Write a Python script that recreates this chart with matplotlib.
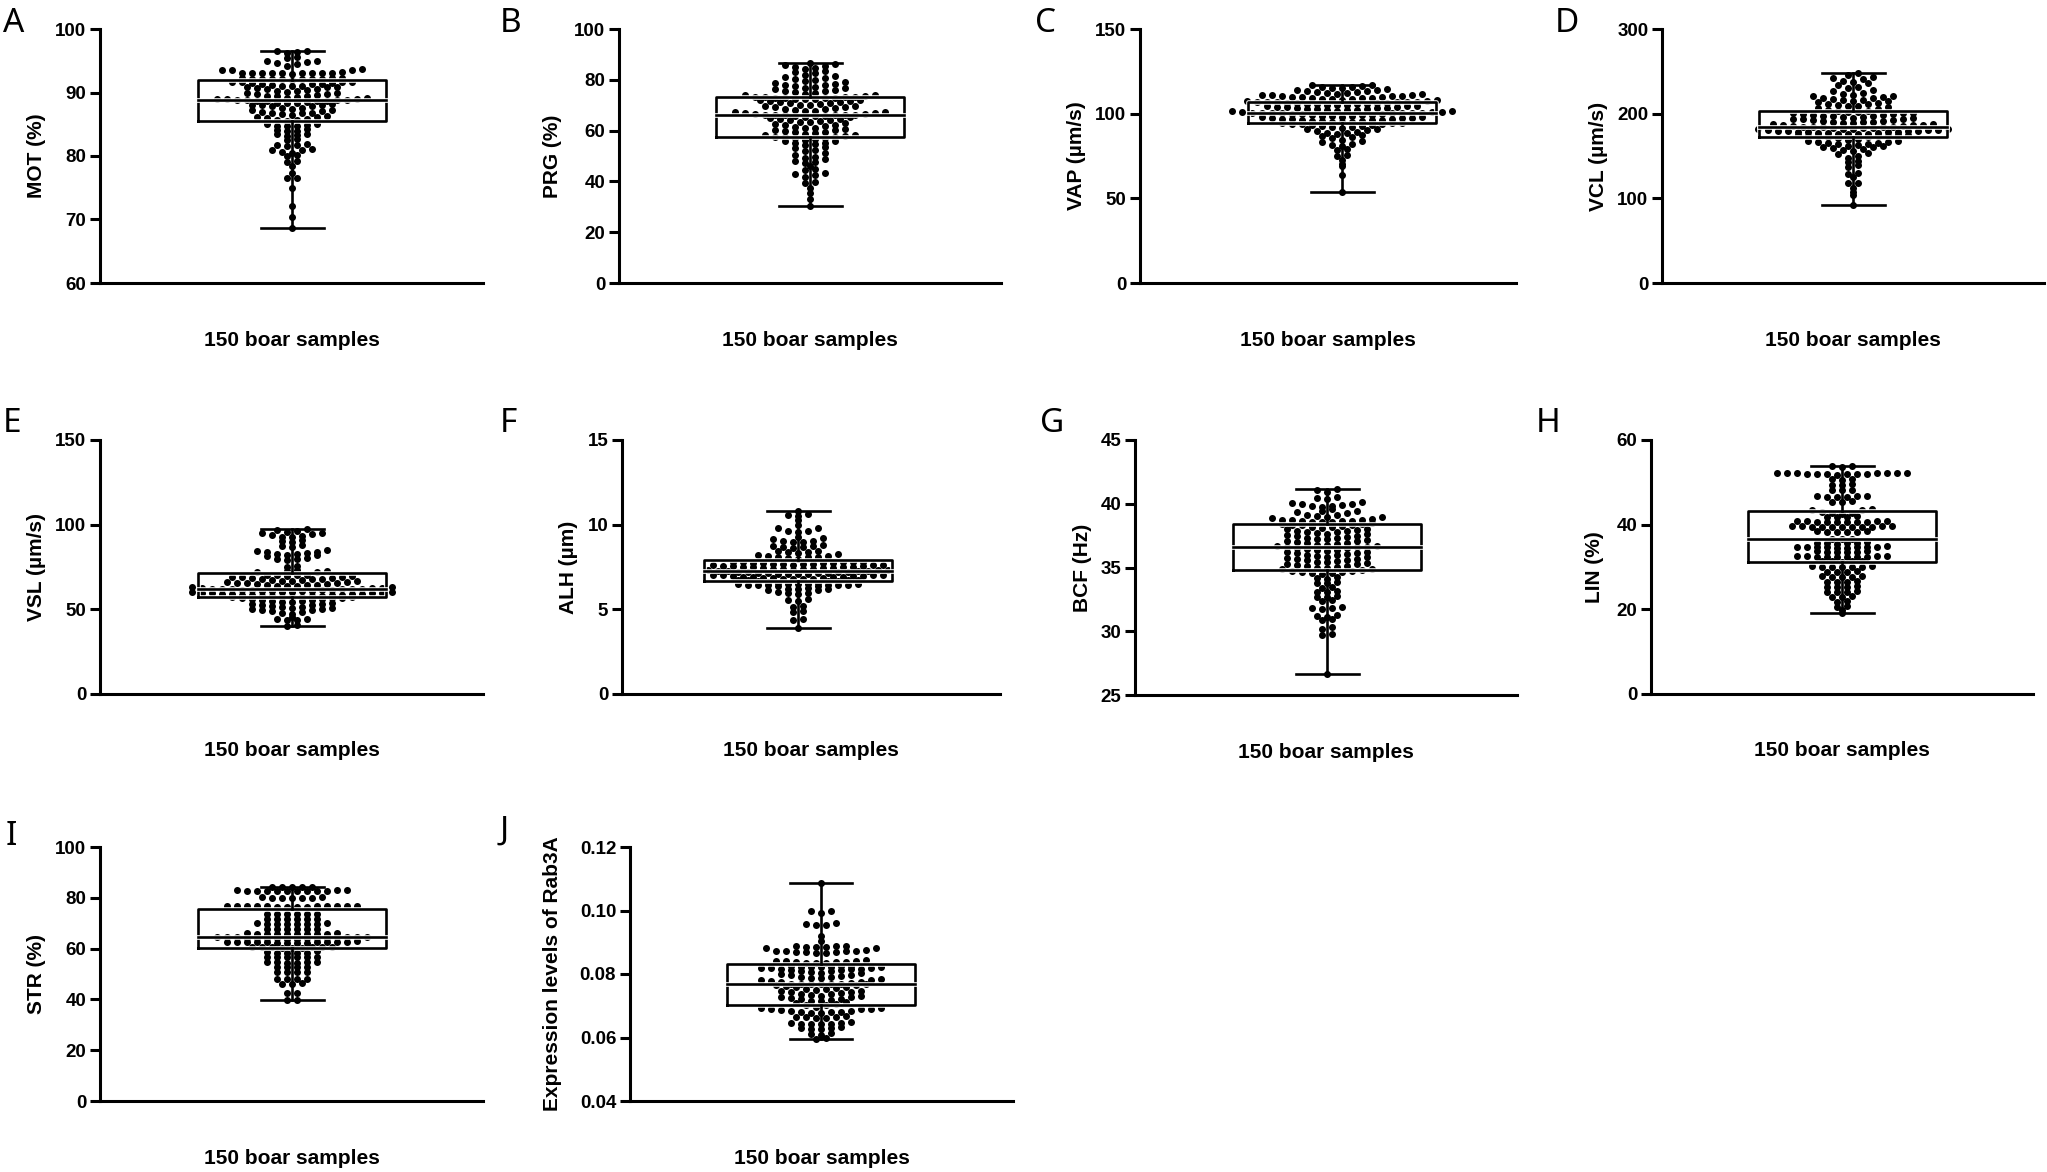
import numpy as np
import matplotlib
matplotlib.use("Agg")
import matplotlib.pyplot as plt
import matplotlib.patheffects as pe

# ---------------- data (150 boar samples) ----------------
mot = [68.7, 70.4, 72.1, 75.0, 76.5, 76.6, 77.4, 78.4, 79.0, 79.2,
       80.0, 80.1, 80.5, 80.6, 80.9, 81.0, 81.1, 81.6, 81.7, 81.8,
       81.9, 82.5, 82.6, 83.2, 83.3, 83.4, 83.5, 83.9, 84.0, 84.1,
       84.2, 84.7, 84.8, 84.8, 84.9, 85.0, 85.1, 85.5, 85.6, 85.7,
       85.9, 86.0, 86.1, 86.2, 86.3, 86.5, 86.6, 86.7, 86.7, 86.8,
       87.0, 87.1, 87.2, 87.3, 87.4, 87.5, 87.6, 87.8, 87.9, 88.0,
       88.0, 88.1, 88.2, 88.3, 88.4, 88.4, 88.5, 88.6, 88.6, 88.7,
       88.7, 88.8, 88.8, 88.8, 88.8, 88.9, 89.0, 89.0, 89.1, 89.2,
       89.3, 89.4, 89.4, 89.5, 89.6, 89.7, 89.8, 89.9, 90.0, 90.1,
       90.2, 90.3, 90.4, 90.5, 90.6, 90.7, 90.8, 90.8, 90.9, 91.0,
       91.1, 91.1, 91.2, 91.3, 91.4, 91.4, 91.5, 91.5, 91.6, 91.6,
       91.7, 91.7, 92.0, 92.1, 92.1, 92.1, 92.2, 92.2, 92.2, 92.2,
       92.3, 92.3, 92.3, 92.9, 93.0, 93.0, 93.0, 93.0, 93.0, 93.1,
       93.1, 93.1, 93.1, 93.2, 93.5, 93.6, 93.6, 93.7, 94.2, 94.5,
       94.7, 94.8, 94.9, 95.0, 95.5, 95.6, 96.2, 96.4, 96.5, 96.6]

prg = [30.4, 33.2, 35.3, 37.5, 39.3, 39.6, 41.8, 42.5, 42.9, 43.5,
       44.3, 44.8, 46.0, 47.1, 47.8, 48.2, 48.9, 49.3, 49.7, 50.2,
       51.0, 51.8, 52.4, 53.0, 53.6, 54.2, 54.6, 55.0, 55.3, 55.8,
       56.1, 56.4, 56.7, 56.9, 57.1, 57.3, 57.5, 57.6, 57.8, 58.1,
       58.4, 58.7, 59.0, 59.3, 59.5, 59.8, 60.1, 60.4, 60.7, 61.0,
       61.2, 61.5, 61.8, 62.1, 62.4, 62.6, 62.9, 63.2, 63.5, 63.8,
       64.0, 64.3, 64.5, 64.7, 64.9, 65.2, 65.4, 65.6, 65.8, 65.9,
       66.0, 66.0, 66.1, 66.1, 66.1, 66.2, 66.4, 66.6, 66.8, 67.0,
       67.3, 67.5, 67.7, 67.9, 68.2, 68.4, 68.6, 68.9, 69.1, 69.3,
       69.5, 69.8, 70.0, 70.2, 70.5, 70.7, 70.9, 71.1, 71.3, 71.5,
       71.7, 71.9, 72.1, 72.3, 72.4, 72.6, 72.7, 72.8, 72.9, 73.0,
       73.1, 73.1, 73.2, 73.4, 73.7, 74.0, 74.2, 74.5, 74.8, 75.1,
       75.4, 75.7, 76.0, 76.3, 76.6, 76.9, 77.2, 77.5, 77.8, 78.1,
       78.4, 78.7, 79.0, 79.4, 79.8, 80.2, 80.6, 81.0, 81.5, 82.0,
       82.5, 83.0, 83.6, 84.2, 84.8, 85.0, 85.3, 85.8, 86.2, 86.5]

vap = [53.6, 63.8, 69.0, 70.5, 72.6, 74.8, 75.3, 78.3, 78.9, 80.8,
       81.3, 82.0, 83.3, 83.8, 84.5, 85.6, 86.2, 86.6, 87.3, 88.0,
       88.4, 88.8, 89.4, 89.9, 90.4, 90.8, 91.1, 91.5, 91.9, 92.3,
       92.6, 93.0, 93.2, 93.5, 93.7, 93.9, 94.1, 94.3, 94.5, 94.7,
       94.9, 95.1, 95.3, 95.6, 95.7, 95.9, 96.2, 96.3, 96.5, 96.8,
       96.9, 97.1, 97.4, 97.5, 97.7, 98.0, 98.1, 98.3, 98.6, 98.7,
       98.9, 99.2, 99.3, 99.5, 99.8, 99.9, 100.0, 100.1, 100.3, 100.4,
       100.5, 100.5, 100.6, 100.6, 100.6, 100.7, 100.8, 101.0, 101.3, 101.4,
       101.6, 101.9, 102.0, 102.2, 102.5, 102.6, 102.8, 103.1, 103.2, 103.4,
       103.7, 103.8, 104.0, 104.3, 104.4, 104.6, 104.9, 105.0, 105.2, 105.5,
       105.6, 105.8, 106.0, 106.2, 106.3, 106.4, 106.5, 106.6, 106.7, 106.8,
       106.9, 106.9, 107.0, 107.3, 107.6, 107.9, 108.2, 108.4, 108.6, 108.8,
       109.0, 109.2, 109.4, 109.6, 109.8, 110.0, 110.2, 110.4, 110.6, 110.8,
       111.0, 111.2, 111.4, 111.7, 112.0, 112.3, 112.6, 112.9, 113.2, 113.5,
       113.8, 114.2, 114.6, 115.0, 115.3, 115.6, 116.0, 116.4, 116.8, 117.0]

vcl = [92.4, 104.5, 107.5, 111.8, 117.6, 118.3, 125.5, 128.8, 130.2, 136.5,
       139.0, 143.0, 144.2, 147.6, 149.5, 152.4, 154.0, 155.8, 157.4, 158.6,
       159.4, 160.2, 160.9, 161.5, 162.3, 163.0, 163.8, 164.5, 165.1, 165.7,
       166.2, 167.0, 167.6, 168.3, 169.0, 170.1, 171.3, 172.4, 172.8, 173.1,
       173.5, 173.8, 174.1, 174.5, 174.8, 175.1, 175.5, 175.8, 176.1, 176.4,
       176.8, 177.1, 177.4, 177.8, 178.1, 178.4, 178.8, 179.1, 179.4, 179.8,
       180.1, 180.4, 180.8, 181.1, 181.4, 181.8, 182.1, 182.4, 182.8, 183.1,
       183.4, 183.8, 184.1, 184.4, 184.5, 184.6, 185.1, 185.6, 186.1, 186.6,
       187.1, 187.6, 188.1, 188.6, 189.1, 189.6, 190.1, 190.6, 191.1, 191.6,
       192.2, 192.7, 193.2, 193.7, 194.2, 194.7, 195.2, 195.7, 196.2, 196.7,
       197.3, 197.8, 198.3, 198.8, 199.3, 199.8, 200.3, 200.8, 201.3, 201.8,
       202.4, 203.0, 203.6, 204.3, 205.4, 206.5, 207.6, 208.6, 209.5, 210.4,
       211.2, 212.0, 212.8, 213.6, 214.4, 215.1, 215.8, 216.5, 217.2, 218.0,
       218.8, 219.6, 220.5, 221.4, 222.3, 223.5, 225.0, 226.5, 228.2, 230.0,
       232.0, 234.0, 236.0, 237.5, 239.0, 240.5, 242.0, 243.5, 246.0, 247.6]

vsl = [40.3, 40.6, 43.5, 43.8, 44.0, 44.2, 45.7, 47.5, 48.0, 48.6,
       49.2, 49.6, 49.9, 50.1, 50.3, 50.5, 50.8, 51.2, 51.6, 52.0,
       52.3, 52.6, 53.0, 53.4, 53.8, 54.1, 54.4, 54.8, 55.1, 55.4,
       55.7, 55.9, 56.2, 56.4, 56.6, 56.8, 57.0, 57.1, 57.2, 57.4,
       57.5, 57.7, 57.8, 58.0, 58.1, 58.3, 58.4, 58.6, 58.7, 58.9,
       59.0, 59.1, 59.3, 59.4, 59.6, 59.7, 59.9, 60.0, 60.2, 60.3,
       60.5, 60.6, 60.8, 60.9, 61.0, 61.2, 61.3, 61.5, 61.6, 61.8,
       61.9, 62.0, 62.0, 62.1, 62.2, 62.4, 62.6, 62.8, 63.0, 63.2,
       63.5, 63.7, 63.9, 64.2, 64.4, 64.6, 64.9, 65.1, 65.3, 65.6,
       65.8, 66.0, 66.3, 66.5, 66.7, 67.0, 67.2, 67.4, 67.7, 67.9,
       68.1, 68.4, 68.6, 68.8, 69.1, 69.3, 69.5, 69.8, 70.0, 70.2,
       70.3, 70.4, 71.8, 72.2, 72.5, 72.9, 73.4, 75.2, 75.8, 79.0,
       79.5, 79.9, 80.4, 81.5, 81.9, 82.2, 82.5, 82.8, 83.2, 83.8,
       84.1, 84.4, 85.0, 86.8, 87.3, 87.8, 89.6, 90.2, 90.8, 92.6,
       93.0, 93.4, 94.0, 94.6, 95.0, 95.3, 95.7, 96.5, 97.0, 97.3]

alh = [3.92, 4.35, 4.40, 4.85, 4.88, 5.14, 5.18, 5.52, 5.56, 5.60,
       5.92, 5.95, 5.98, 6.02, 6.14, 6.17, 6.19, 6.21, 6.23, 6.26,
       6.38, 6.40, 6.41, 6.42, 6.43, 6.44, 6.45, 6.46, 6.47, 6.48,
       6.49, 6.50, 6.52, 6.55, 6.58, 6.62, 6.65, 6.69, 6.70, 6.72,
       6.73, 6.75, 6.76, 6.78, 6.79, 6.81, 6.82, 6.84, 6.86, 6.87,
       6.89, 6.90, 6.92, 6.93, 6.95, 6.96, 6.98, 7.00, 7.01, 7.03,
       7.04, 7.06, 7.07, 7.09, 7.10, 7.12, 7.14, 7.15, 7.17, 7.18,
       7.20, 7.21, 7.23, 7.24, 7.26, 7.27, 7.29, 7.30, 7.32, 7.33,
       7.35, 7.37, 7.38, 7.40, 7.41, 7.43, 7.44, 7.46, 7.48, 7.49,
       7.51, 7.52, 7.54, 7.55, 7.57, 7.59, 7.60, 7.62, 7.63, 7.65,
       7.66, 7.68, 7.70, 7.71, 7.73, 7.74, 7.76, 7.77, 7.79, 7.80,
       7.81, 7.82, 7.98, 8.04, 8.08, 8.10, 8.12, 8.14, 8.16, 8.20,
       8.24, 8.30, 8.36, 8.40, 8.42, 8.45, 8.60, 8.66, 8.70, 8.72,
       8.75, 8.78, 8.95, 9.00, 9.03, 9.06, 9.18, 9.22, 9.25, 9.56,
       9.60, 9.64, 9.78, 9.80, 10.00, 10.28, 10.52, 10.58, 10.62, 10.81]

bcf = [26.62, 29.70, 29.80, 30.20, 30.30, 30.85, 30.95, 31.15, 31.20, 31.30,
       31.75, 31.80, 31.85, 31.90, 32.35, 32.45, 32.65, 32.70, 32.80, 33.05,
       33.10, 33.15, 33.40, 33.45, 33.75, 33.80, 33.90, 34.10, 34.15, 34.25,
       34.50, 34.55, 34.60, 34.62, 34.65, 34.70, 34.75, 34.80, 34.85, 34.90,
       34.95, 35.00, 35.05, 35.10, 35.15, 35.20, 35.25, 35.30, 35.35, 35.40,
       35.45, 35.50, 35.55, 35.60, 35.65, 35.70, 35.75, 35.80, 35.85, 35.90,
       35.95, 36.00, 36.05, 36.10, 36.15, 36.20, 36.25, 36.30, 36.35, 36.40,
       36.45, 36.50, 36.54, 36.57, 36.58, 36.60, 36.65, 36.70, 36.75, 36.80,
       36.85, 36.90, 36.95, 37.00, 37.05, 37.10, 37.15, 37.20, 37.25, 37.30,
       37.35, 37.40, 37.45, 37.50, 37.55, 37.60, 37.65, 37.70, 37.75, 37.80,
       37.85, 37.90, 37.95, 38.00, 38.05, 38.10, 38.15, 38.20, 38.25, 38.30,
       38.33, 38.34, 38.40, 38.45, 38.50, 38.55, 38.58, 38.60, 38.62, 38.65,
       38.68, 38.70, 38.72, 38.75, 38.80, 38.90, 38.95, 39.00, 39.05, 39.10,
       39.15, 39.30, 39.35, 39.40, 39.45, 39.55, 39.75, 39.80, 39.85, 39.90,
       39.95, 40.00, 40.05, 40.10, 40.35, 40.45, 40.55, 40.90, 41.05, 41.18]

lin = [19.1, 19.9, 20.5, 20.7, 21.7, 21.9, 22.9, 23.0, 23.1, 24.1,
       24.2, 24.2, 24.3, 25.2, 25.3, 25.3, 25.4, 26.4, 26.5, 26.5,
       26.6, 27.6, 27.7, 27.7, 27.8, 27.8, 28.8, 28.9, 28.9, 29.0,
       30.0, 30.0, 30.1, 30.1, 30.1, 30.2, 30.2, 31.2, 31.3, 31.3,
       31.3, 31.4, 32.3, 32.3, 32.4, 32.4, 32.4, 32.4, 32.5, 32.5,
       32.5, 32.6, 33.5, 33.6, 33.6, 33.6, 33.7, 33.7, 34.6, 34.6,
       34.7, 34.7, 34.7, 34.7, 34.8, 34.8, 34.8, 34.9, 35.5, 35.6,
       35.6, 35.7, 35.7, 35.8, 36.5, 36.6, 36.7, 38.2, 38.2, 38.3,
       38.3, 38.4, 38.4, 39.4, 39.4, 39.5, 39.5, 39.5, 39.5, 39.5,
       39.6, 39.6, 39.6, 39.6, 40.6, 40.6, 40.7, 40.7, 40.7, 40.7,
       40.8, 40.8, 40.8, 40.8, 41.8, 41.9, 41.9, 42.0, 42.6, 42.7,
       42.8, 42.9, 43.4, 43.5, 43.6, 45.3, 45.4, 45.5, 46.5, 46.6,
       46.6, 46.7, 46.7, 46.8, 48.1, 48.2, 48.3, 49.3, 49.4, 49.5,
       50.6, 50.7, 50.8, 51.8, 51.9, 51.9, 52.0, 52.0, 52.0, 52.0,
       52.1, 52.1, 52.1, 52.2, 52.2, 52.3, 52.3, 53.6, 53.8, 53.9]

strv = [39.6, 39.9, 42.5, 42.7, 46.1, 46.2, 46.3, 48.0, 48.1, 48.1,
        48.2, 50.6, 50.7, 50.7, 50.8, 52.6, 52.7, 52.7, 52.8, 54.5,
        54.5, 54.6, 54.6, 54.7, 54.8, 56.5, 56.6, 56.6, 56.7, 56.7,
        56.8, 58.2, 58.3, 58.3, 58.4, 58.5, 58.9, 60.3, 60.4, 60.4,
        60.5, 60.5, 60.5, 60.6, 60.6, 60.7, 62.3, 62.4, 62.4, 62.4,
        62.5, 62.5, 62.5, 62.5, 62.6, 62.6, 62.6, 62.7, 62.7, 62.8,
        63.9, 63.9, 64.0, 64.0, 64.1, 64.1, 64.2, 64.3, 64.3, 64.4,
        64.4, 64.4, 64.4, 64.5, 64.5, 64.6, 65.7, 65.7, 65.8, 65.8,
        65.8, 65.9, 65.9, 65.9, 66.0, 66.0, 67.6, 67.7, 67.7, 67.8,
        67.8, 67.9, 69.6, 69.6, 69.7, 69.7, 69.8, 69.8, 69.9, 69.9,
        71.5, 71.6, 71.6, 71.7, 71.7, 71.8, 73.5, 73.6, 73.6, 73.7,
        73.7, 73.8, 76.4, 76.5, 76.5, 76.5, 76.6, 76.6, 76.6, 76.6,
        76.7, 76.7, 76.7, 76.8, 76.8, 76.9, 79.9, 80.0, 80.0, 80.1,
        80.1, 80.2, 80.3, 82.5, 82.6, 82.6, 82.7, 82.7, 82.7, 82.8,
        82.8, 82.8, 82.9, 82.9, 83.0, 84.1, 84.2, 84.2, 84.3, 84.3]

rab3a = [0.0595, 0.0597, 0.0609, 0.0611, 0.0613, 0.0626, 0.0628, 0.0629, 0.0631, 0.0633,
         0.0641, 0.0642, 0.0643, 0.0644, 0.0645, 0.0646, 0.0648, 0.0660, 0.0662, 0.0664,
         0.0665, 0.0666, 0.0668, 0.0677, 0.0678, 0.0679, 0.0680, 0.0681, 0.0682, 0.0683,
         0.0688, 0.0689, 0.0690, 0.0691, 0.0692, 0.0693, 0.0696, 0.0701, 0.0703, 0.0706,
         0.0709, 0.0712, 0.0714, 0.0716, 0.0718, 0.0720, 0.0722, 0.0724, 0.0726, 0.0728,
         0.0730, 0.0732, 0.0734, 0.0736, 0.0738, 0.0740, 0.0742, 0.0744, 0.0746, 0.0748,
         0.0750, 0.0752, 0.0754, 0.0756, 0.0758, 0.0760, 0.0762, 0.0764, 0.0766, 0.0767,
         0.0768, 0.0768, 0.0769, 0.0769, 0.0769, 0.0770, 0.0772, 0.0774, 0.0776, 0.0778,
         0.0780, 0.0782, 0.0784, 0.0786, 0.0788, 0.0790, 0.0792, 0.0794, 0.0796, 0.0798,
         0.0800, 0.0802, 0.0804, 0.0806, 0.0808, 0.0810, 0.0812, 0.0814, 0.0815, 0.0816,
         0.0817, 0.0818, 0.0819, 0.0820, 0.0821, 0.0822, 0.0822, 0.0823, 0.0823, 0.0824,
         0.0824, 0.0825, 0.0834, 0.0835, 0.0836, 0.0837, 0.0838, 0.0839, 0.0840, 0.0841,
         0.0842, 0.0843, 0.0866, 0.0867, 0.0868, 0.0869, 0.0870, 0.0871, 0.0872, 0.0873,
         0.0874, 0.0875, 0.0882, 0.0883, 0.0884, 0.0885, 0.0886, 0.0887, 0.0888, 0.0889,
         0.0905, 0.0921, 0.0953, 0.0955, 0.0957, 0.0960, 0.0993, 0.0997, 0.1000, 0.1088]

letters = ["A", "B", "C", "D", "E", "F", "G", "H", "I", "J"]
ylabels = ["MOT (%)", "PRG (%)", "VAP (µm/s)", "VCL (µm/s)", "VSL (µm/s)",
           "ALH (µm)", "BCF (Hz)", "LIN (%)", "STR (%)", "Expression levels of Rab3A"]
xlabel = "150 boar samples"
series = [mot, prg, vap, vcl, vsl, alh, bcf, lin, strv, rab3a]
yticks = [[60, 70, 80, 90, 100], [0, 20, 40, 60, 80, 100], [0, 50, 100, 150],
          [0, 100, 200, 300], [0, 50, 100, 150], [0, 5, 10, 15], [25, 30, 35, 40, 45],
          [0, 20, 40, 60], [0, 20, 40, 60, 80, 100], [0.04, 0.06, 0.08, 0.10, 0.12]]
yticklabels = [["60", "70", "80", "90", "100"], ["0", "20", "40", "60", "80", "100"],
               ["0", "50", "100", "150"], ["0", "100", "200", "300"], ["0", "50", "100", "150"],
               ["0", "5", "10", "15"], ["25", "30", "35", "40", "45"], ["0", "20", "40", "60"],
               ["0", "20", "40", "60", "80", "100"], ["0.04", "0.06", "0.08", "0.10", "0.12"]]

# ---------------- layout (pixels) ----------------
W, H = 2047, 1172
# left, right, top, bottom of each plot area, box centre x
geom = [(100, 483, 29, 283, 292), (619, 1001, 29, 283, 810),
        (1140, 1516, 29, 283, 1342), (1662, 2044, 29, 283, 1853),
        (100, 483, 440, 694, 292), (622, 1000, 440, 694, 798),
        (1135, 1517, 440, 695, 1327), (1651, 2033, 440, 694, 1842),
        (100, 483, 847, 1101, 292), (630, 1013, 847, 1101, 821)]
letter_pos = [(3, 32), (500, 32), (1035, 32), (1555, 32),
              (3, 432), (500, 432), (1040, 432), (1536, 432),
              (6, 845), (500, 840)]
ylab_off = [63, 66, 64, 64, 63, 54, 53, 56, 63, 77]
row_h = [5.5, 5.5, 5.5, 5.5, 5.2, 4.7, 5.5, 5.5, 5.5, 5.5]   # row height, px

DOT = 7.0        # dot diameter, px
SPACING = 10.0   # column spacing, px
GAP = 2.5        # a vertical gap larger than this starts a new row, px
BOXW = 188.0
CAPW = 63.0

plt.rcParams["font.family"] = ["Liberation Sans", "DejaVu Sans"]
fig = plt.figure(figsize=(W / 100, H / 100), dpi=100)


def fx(x):
    return x / W


def fy(y):
    return 1 - y / H


for i in range(10):
    l, r, t, b, cx = geom[i]
    vals = np.sort(np.asarray(series[i], dtype=float))
    ymin, ymax = yticks[i][0], yticks[i][-1]
    ax = fig.add_axes([fx(l), fy(b), (r - l) / W, (b - t) / H])
    ax.set_xlim(0, r - l)
    ax.set_ylim(ymin, ymax)
    for s in ["top", "right"]:
        ax.spines[s].set_visible(False)
    for s in ["left", "bottom"]:
        ax.spines[s].set_linewidth(2.2)
        ax.spines[s].set_capstyle("projecting")
    ax.set_xticks([])
    ax.set_yticks(yticks[i])
    ax.set_yticklabels(yticklabels[i], fontweight="bold", fontsize=13.5)
    ax.tick_params(axis="y", length=7.4, width=2.2, pad=2.5)

    # Prism-like scatter layout: rows of dots spread horizontally on a grid
    ppu = (b - t) / (ymax - ymin)
    ypx = (vals - ymin) * ppu
    n = len(vals)
    groups = []
    start = 0
    for k in range(1, n):
        if ypx[k] - ypx[k - 1] > GAP or ypx[k] - ypx[start] > row_h[i]:
            groups.append((start, k))
            start = k
    groups.append((start, n))
    xs = np.zeros_like(vals)
    for g0, g1 in groups:
        m = g1 - g0
        offs = (np.arange(m) - (m - 1) / 2.0) * SPACING
        order = np.argsort(np.abs(offs), kind="stable")
        xs[g0:g1] = (cx - l) + offs[order]
    ax.scatter(xs, vals, s=(DOT * 0.72) ** 2, c="black", linewidths=0,
               zorder=2, clip_on=False)

    q1, med, q3 = np.percentile(vals, [25, 50, 75])
    stats = [dict(med=med, q1=q1, q3=q3, whislo=vals.min(), whishi=vals.max(), fliers=[])]
    halo = [pe.Stroke(linewidth=3.3, foreground="white"), pe.Normal()]
    lp = dict(color="black", linewidth=1.9, path_effects=halo, solid_capstyle="projecting")
    ax.bxp(stats, positions=[cx - l], widths=BOXW, capwidths=CAPW, showfliers=False,
           boxprops=lp, medianprops=lp, whiskerprops=dict(color="black", linewidth=1.9),
           capprops=dict(color="black", linewidth=1.9), manage_ticks=False, zorder=3)

    # labels
    fig.text(fx(l - ylab_off[i]), fy((t + b) / 2), ylabels[i], rotation=90,
             ha="center", va="center", fontsize=15, fontweight="bold")
    fig.text(fx((l + r) / 2), fy(b + 57), xlabel, ha="center", va="center",
             fontsize=15, fontweight="bold")
    lx, ly = letter_pos[i]
    fig.text(fx(lx), fy(ly), letters[i], ha="left", va="baseline", fontsize=24,
             family=["Noto Sans", "DejaVu Sans"])

fig.savefig("out.png", dpi=100, facecolor="white")
